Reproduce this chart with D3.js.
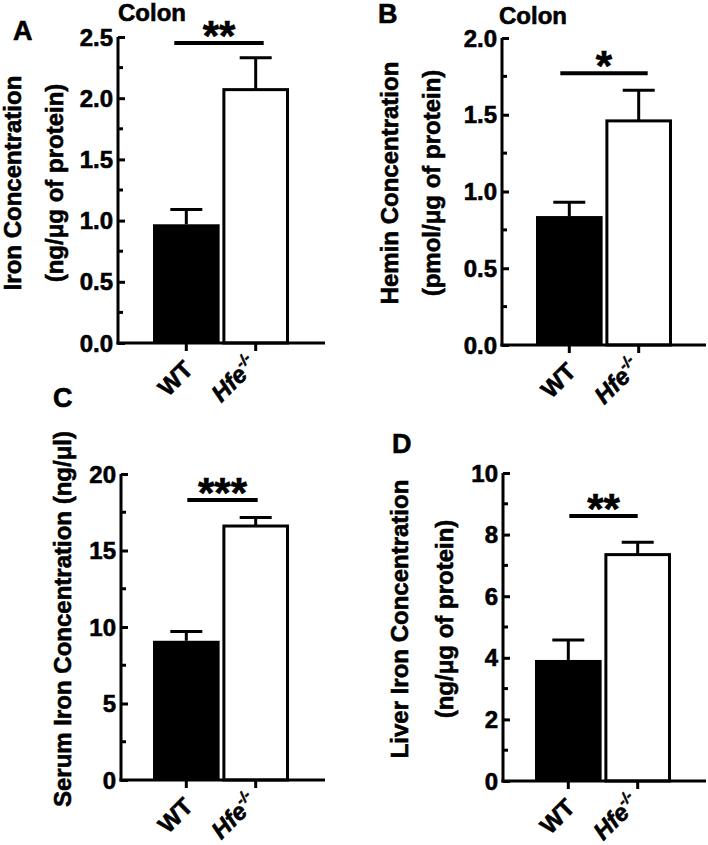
<!DOCTYPE html>
<html>
<head>
<meta charset="utf-8">
<script src="https://cdn.jsdelivr.net/npm/d3@7"></script>
<style>
  html, body { margin: 0; padding: 0; background: #fff; }
  svg { display: block; font-family: "Liberation Sans", Arial, sans-serif; font-weight: bold; }
  svg text { stroke: #000; stroke-width: 0.6px; }
</style>
</head>
<body>
<svg id="chart" width="708" height="845"></svg>
<script>
// data
const groups = ["WT", "Hfe"];
const panelLetters = ["A", "B", "C", "D"];
const panelTitles = ["Colon", "Colon", "", ""];
const yTitles = [
    ["Iron Concentration", "(ng/μg of protein)"],
    ["Hemin Concentration", "(pmol/μg of protein)"],
    ["Serum Iron Concentration (ng/μl)"],
    ["Liver Iron Concentration", "(ng/μg of protein)"]
];
const yMax = [2.5, 2.0, 20, 10];
const yMinorStep = [0.25, 0.25, 2.5, 1];
const yTickValues = [
    [0, 0.5, 1.0, 1.5, 2.0, 2.5],
    [0, 0.5, 1.0, 1.5, 2.0],
    [0, 5, 10, 15, 20],
    [0, 2, 4, 6, 8, 10]
];
const yTickLabels = [
    ["0.0", "0.5", "1.0", "1.5", "2.0", "2.5"],
    ["0.0", "0.5", "1.0", "1.5", "2.0"],
    ["0", "5", "10", "15", "20"],
    ["0", "2", "4", "6", "8", "10"]
];
const meanValues = [[0.97, 2.07], [0.84, 1.46], [9.1, 16.6], [3.93, 7.35]];
const semValues = [[0.12, 0.26], [0.09, 0.20], [0.6, 0.55], [0.65, 0.4]];
const sigLevels = [2.45, 1.77, 18.3, 8.6];
const sigStars = ["**", "*", "***", "**"];

// panel placement (pixels)
const layout = [
    { ax: 118, y0: 343, yT: 37, xEnd: 325, b0: 153, b1: 289, sig: [-12, 8], letter: [13, 40], title: [152, 21], ty: 183, tx: [21, 63] },
    { ax: 502, y0: 345, yT: 38, xEnd: 706, b0: 536, b1: 672, sig: [-9, 9], letter: [378, 23], title: [533, 24], ty: 183, tx: [398, 440] },
    { ax: 121, y0: 780, yT: 474, xEnd: 325, b0: 153, b1: 289, sig: [1, 2], letter: [53, 407], title: null, ty: 619, tx: [71] },
    { ax: 503, y0: 781, yT: 473, xEnd: 706, b0: 535, b1: 671, sig: [1, 0], letter: [392, 453], title: null, ty: 619, tx: [408, 453] }
];

const svg = d3.select("#chart");
svg.append("rect").attr("width", 708).attr("height", 845).attr("fill", "#fff");

layout.forEach((L, i) => {
    const g = svg.append("g");
    const y = d3.scaleLinear().domain([0, yMax[i]]).range([L.y0, L.yT]);
    const x = d3.scaleBand().domain(groups).range([L.b0, L.b1]).paddingInner(0.04);

    // y axis: ticks point inward
    const yAxis = d3.axisRight(y)
        .tickValues(yTickValues[i])
        .tickSize(7)
        .tickFormat("");
    const ya = g.append("g").attr("transform", `translate(${L.ax},0)`).call(yAxis);
    ya.select(".domain").attr("d", `M0,${L.y0 + 1.5}V${L.yT}`).attr("stroke-width", 3);
    ya.selectAll(".tick line").attr("stroke-width", 3);

    const minor = d3.range(yMinorStep[i], yMax[i], yMinorStep[i] * 2);
    g.selectAll(".minor").data(minor).join("line")
        .attr("x1", L.ax).attr("x2", L.ax + 5)
        .attr("y1", d => y(d)).attr("y2", d => y(d))
        .attr("stroke", "#000").attr("stroke-width", 3);

    g.selectAll(".ylab").data(yTickValues[i]).join("text")
        .attr("x", L.ax - 5).attr("y", d => y(d)).attr("dy", "0.36em")
        .attr("text-anchor", "end").style("font-size", "24px")
        .text((d, k) => yTickLabels[i][k]);

    // bars
    g.selectAll(".bar").data(groups).join("rect")
        .attr("x", (d, k) => k === 0 ? x(d) : x(d) + 1.5)
        .attr("width", (d, k) => k === 0 ? x.bandwidth() : x.bandwidth() - 3)
        .attr("y", (d, k) => y(meanValues[i][k]))
        .attr("height", (d, k) => L.y0 - y(meanValues[i][k]))
        .attr("fill", (d, k) => k === 0 ? "#000" : "#fff")
        .attr("stroke", "#000")
        .attr("stroke-width", (d, k) => k === 0 ? 0 : 3);

    // error bars (upper only)
    groups.forEach((d, k) => {
        const cx = x(d) + x.bandwidth() / 2;
        const top = y(meanValues[i][k] + semValues[i][k]);
        g.append("line").attr("x1", cx).attr("x2", cx)
            .attr("y1", y(meanValues[i][k])).attr("y2", top)
            .attr("stroke", "#000").attr("stroke-width", 3);
        g.append("line").attr("x1", cx - 16).attr("x2", cx + 16)
            .attr("y1", top).attr("y2", top)
            .attr("stroke", "#000").attr("stroke-width", 3);
    });

    // x axis
    g.append("line").attr("x1", L.ax - 1.5).attr("x2", L.xEnd)
        .attr("y1", L.y0).attr("y2", L.y0)
        .attr("stroke", "#000").attr("stroke-width", 3);
    groups.forEach(d => {
        const cx = x(d) + x.bandwidth() / 2;
        g.append("line").attr("x1", cx).attr("x2", cx)
            .attr("y1", L.y0).attr("y2", L.y0 + 8)
            .attr("stroke", "#000").attr("stroke-width", 3);
    });

    // rotated group labels
    const cWT = x("WT") + x.bandwidth() / 2;
    g.append("text")
        .attr("transform", `translate(${cWT + 8},${L.y0 + 28}) rotate(-45)`)
        .attr("text-anchor", "end").style("font-size", "24px")
        .text("WT");
    const cH = x("Hfe") + x.bandwidth() / 2;
    const ht = g.append("text")
        .attr("transform", `translate(${cH + 3},${L.y0 + 23}) rotate(-45)`)
        .attr("text-anchor", "end").style("font-size", "24px");
    ht.append("tspan").style("font-style", "italic").text("Hfe");
    ht.append("tspan").attr("dy", -10).style("font-size", "15px").style("font-style", "italic").text("-/-");

    // significance bar
    const c0 = x("WT") + x.bandwidth() / 2, c1 = x("Hfe") + x.bandwidth() / 2;
    const sy = y(sigLevels[i]);
    g.append("line").attr("x1", c0 + L.sig[0]).attr("x2", c1 + L.sig[1])
        .attr("y1", sy).attr("y2", sy)
        .attr("stroke", "#000").attr("stroke-width", 4);
    g.append("text")
        .attr("x", (c0 + L.sig[0] + c1 + L.sig[1]) / 2).attr("y", sy + 7)
        .attr("text-anchor", "middle").style("font-size", "42px")
        .text(sigStars[i]);

    // y titles
    yTitles[i].forEach((t, k) => {
        g.append("text")
            .attr("transform", `translate(${L.tx[k]},${L.ty}) rotate(-90)`)
            .attr("text-anchor", "middle").style("font-size", "24px")
            .text(t);
    });

    // panel letter and title
    g.append("text").attr("x", L.letter[0]).attr("y", L.letter[1])
        .style("font-size", "27px").text(panelLetters[i]);
    if (L.title) {
        g.append("text").attr("x", L.title[0]).attr("y", L.title[1])
            .attr("text-anchor", "middle").style("font-size", "24px")
            .text(panelTitles[i]);
    }
});
</script>
</body>
</html>
